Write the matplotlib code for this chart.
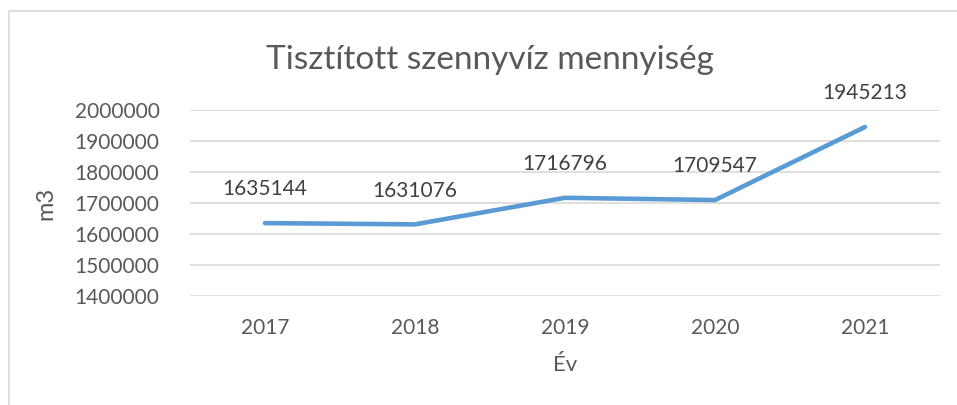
import matplotlib
matplotlib.use('Agg')
import matplotlib.pyplot as plt
from matplotlib.patches import Rectangle

# data
years = ['2017', '2018', '2019', '2020', '2021']
values = [1635144, 1631076, 1716796, 1709547, 1945213]
yticks = [1400000, 1500000, 1600000, 1700000, 1800000, 1900000, 2000000]

plt.rcParams['font.family'] = ['Lato', 'DejaVu Sans']
text_col = '#595959'

fig = plt.figure(figsize=(9.57, 4.05), dpi=100)
ax = fig.add_axes([190 / 957, 1 - 296 / 405, 750 / 957, 186 / 405])

x = list(range(len(years)))
ax.plot(x, values, color='#5B9BD5', linewidth=3.3, solid_capstyle='round')
for xi, v in zip(x, values):
    ax.annotate(str(v), (xi, v), xytext=(0, 17), textcoords='offset points',
                ha='center', va='bottom', fontsize=15, color='#404040')

ax.set_xlim(-0.5, len(years) - 0.5)
ax.set_ylim(yticks[0], yticks[-1])
ax.set_yticks(yticks)
ax.set_yticklabels([str(t) for t in yticks])
ax.set_xticks(x)
ax.set_xticklabels(years)
ax.tick_params(axis='both', length=0, labelsize=15, labelcolor=text_col)
ax.tick_params(axis='y', pad=22)
ax.tick_params(axis='x', pad=16)
ax.grid(axis='y', color='#D9D9D9', linewidth=1.2)
ax.set_axisbelow(True)
for s in ax.spines.values():
    s.set_visible(False)

ax.set_ylabel('m3', fontsize=17, color=text_col, labelpad=13)
ax.set_xlabel('Év', fontsize=16, color=text_col, labelpad=12)
fig.text(490 / 957, 1 - 60 / 405, 'Tisztított szennyvíz mennyiség', ha='center', va='center',
         fontsize=24, color=text_col)

# chart frame
fig.patches.append(Rectangle((9 / 957, -0.1), 1.1, 1 - 11 / 405 + 0.1, transform=fig.transFigure,
                             fill=False, edgecolor='#D9D9D9', linewidth=1.2))

fig.savefig('out.png', dpi=100)
